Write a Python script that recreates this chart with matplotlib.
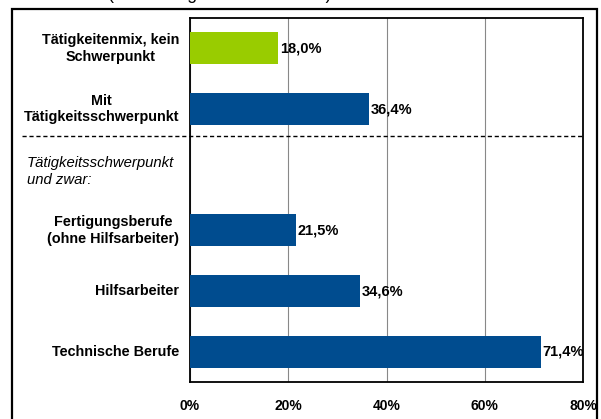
import matplotlib.pyplot as plt
import matplotlib.patches as patches
from matplotlib.lines import Line2D

plt.rcParams["font.family"] = ["Liberation Sans", "DejaVu Sans"]

# Daten
categories = [
    "Tätigkeitenmix, kein\nSchwerpunkt",
    "Mit\nTätigkeitsschwerpunkt",
    "Tätigkeitsschwerpunkt\nund zwar:",
    "Fertigungsberufe\n(ohne Hilfsarbeiter)",
    "Hilfsarbeiter",
    "Technische Berufe",
]
values = [18.0, 36.4, None, 21.5, 34.6, 71.4]
bar_colors = ["#99CC00", "#004C8F", None, "#004C8F", "#004C8F", "#004C8F"]
xticks = [0, 20, 40, 60, 80]
title = "(Stellenangebote in Prozent)"

W, H = 601, 419
fig = plt.figure(figsize=(W / 100, H / 100), dpi=100)
ax = fig.add_axes([190 / W, 1 - 382 / H, (583 - 190) / W, (382 - 18) / H])

# Balken
for i, (v, c) in enumerate(zip(values, bar_colors)):
    if v is None:
        continue
    ax.barh(i, v, height=0.53, color=c, zorder=3)
    ax.text(v + 0.4, i, f"{v:.1f}%".replace(".", ","), va="center", ha="left",
            fontsize=10.5, fontweight="bold", zorder=4)

ax.set_ylim(len(categories) - 0.5, -0.5)
ax.set_xlim(0, 80)
ax.set_xticks(xticks)
ax.set_xticklabels([f"{t}%" for t in xticks], fontsize=10, fontweight="bold")
ax.set_yticks([])
ax.tick_params(axis="x", length=0, pad=12)
ax.grid(axis="x", color="#888888", linewidth=0.8, zorder=0)
for s in ax.spines.values():
    s.set_linewidth(1.3)
    s.set_color("black")

# Kategorien-Beschriftung
for i, lab in enumerate(categories):
    if values[i] is None:
        fig.text(27 / W, ax.transData.transform((0, i))[1] / H - 2 / H, lab,
                 ha="left", va="center", fontsize=10.7, style="italic",
                 linespacing=1.3)
    else:
        ax.text(-11 / (583 - 190) * 80, i, lab, ha="right", va="center",
                multialignment="center", fontsize=10.4, fontweight="bold",
                linespacing=1.25)

# gestrichelte Trennlinie
fig.add_artist(Line2D([22 / W, 583 / W], [1 - 136 / H, 1 - 136 / H],
                      transform=fig.transFigure, color="black",
                      linewidth=1.0, linestyle=(0, (3, 2))))

# äußerer Rahmen
fig.add_artist(patches.Rectangle((11.5 / W, -0.1), (597 - 11.5) / W, 0.1 + 1 - 9 / H,
                                 transform=fig.transFigure, fill=False,
                                 edgecolor="black", linewidth=1.6))

# abgeschnittener Titel (nur Unterlängen sichtbar)
fig.text(108 / W, 1 + 1.5 / H, title, ha="left", va="baseline", fontsize=12.7)

fig.savefig("out.png", dpi=100)
